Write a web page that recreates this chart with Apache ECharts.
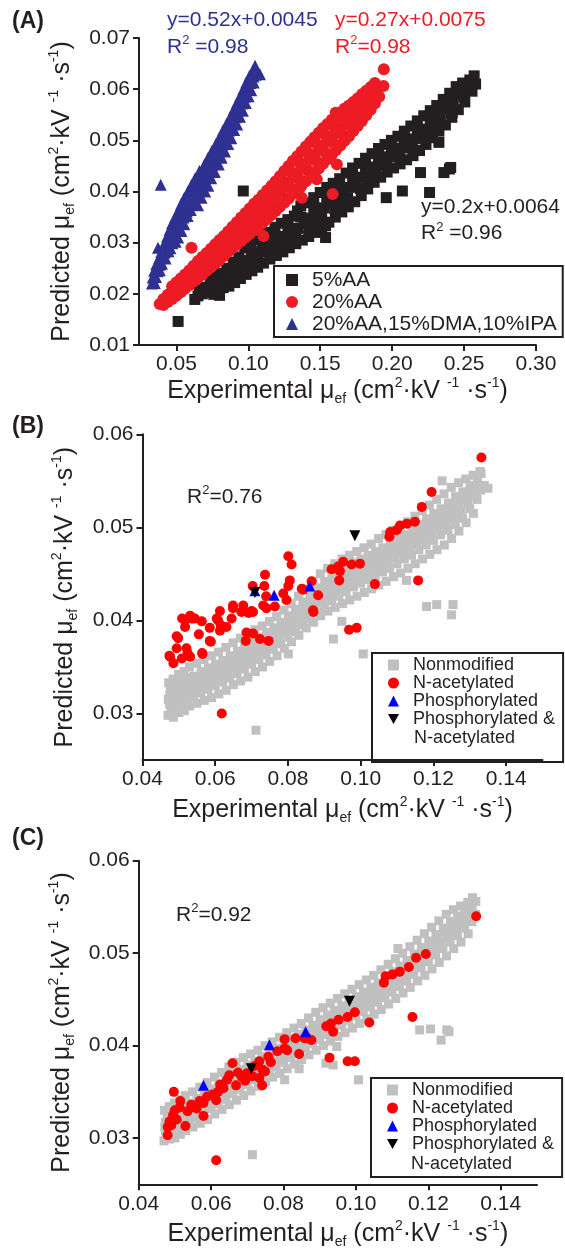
<!DOCTYPE html>
<html><head><meta charset="utf-8">
<script src="https://cdn.jsdelivr.net/npm/echarts@6/dist/echarts.min.js"></script>
<style>html,body{margin:0;padding:0;background:#fff}#c{width:565px;height:1255px}</style>
</head><body><div id="c"></div>
<script>
// ---------- tick values ----------
const xTicksA = [0.05, 0.10, 0.15, 0.20, 0.25, 0.30];
const yTicksA = [0.01, 0.02, 0.03, 0.04, 0.05, 0.06, 0.07];
const xTicksBC = [0.04, 0.06, 0.08, 0.10, 0.12, 0.14];
const yTicksBC = [0.03, 0.04, 0.05, 0.06];

// ---------- panel A : [experimental, predicted] ----------
const aa5 = [
[0.0512,0.0146],[0.0628,0.0189],[0.0650,0.0196],[0.0660,0.0208],[0.0680,0.0200],[0.0700,0.0213],[0.0720,0.0203],[0.0735,0.0218],
[0.0747,0.0238],[0.0760,0.0261],[0.0760,0.0199],[0.0780,0.0210],[0.0790,0.0225],[0.0800,0.0197],[0.0815,0.0240],[0.0825,0.0212],
[0.0840,0.0228],[0.0850,0.0250],[0.0865,0.0215],[0.0880,0.0235],[0.0884,0.0287],[0.0895,0.0262],[0.0905,0.0222],[0.0920,0.0245],
[0.0935,0.0272],[0.0945,0.0230],[0.0960,0.0255],[0.0965,0.0401],[0.0975,0.0290],[0.0985,0.0238],[0.1000,0.0265],[0.1015,0.0300],
[0.1025,0.0245],[0.1040,0.0275],[0.1060,0.0305],[0.1065,0.0252],[0.1080,0.0282],[0.1100,0.0312],[0.1105,0.0260],[0.1120,0.0290],
[0.1140,0.0320],[0.1150,0.0268],[0.1165,0.0298],[0.1185,0.0330],[0.1195,0.0275],[0.1210,0.0305],[0.1230,0.0338],[0.1240,0.0282],
[0.1255,0.0312],[0.1275,0.0345],[0.1285,0.0290],[0.1300,0.0320],[0.1320,0.0352],[0.1330,0.0298],[0.1342,0.0362],[0.1345,0.0328],
[0.1365,0.0372],[0.1375,0.0305],[0.1390,0.0338],[0.1410,0.0378],[0.1420,0.0312],[0.1435,0.0348],[0.1455,0.0388],[0.1465,0.0320],
[0.1480,0.0358],[0.1500,0.0398],[0.1510,0.0328],[0.1537,0.0333],[0.1537,0.0310],[0.1525,0.0368],[0.1545,0.0408],[0.1560,0.0340],
[0.1570,0.0378],[0.1590,0.0416],[0.1605,0.0350],[0.1615,0.0388],[0.1635,0.0425],[0.1650,0.0360],[0.1660,0.0398],[0.1680,0.0436],
[0.1695,0.0370],[0.1705,0.0408],[0.1725,0.0446],[0.1740,0.0380],[0.1750,0.0418],[0.1770,0.0455],[0.1785,0.0392],[0.1795,0.0428],
[0.1815,0.0465],[0.1830,0.0405],[0.1840,0.0438],[0.1860,0.0474],[0.1875,0.0418],[0.1885,0.0448],[0.1905,0.0484],[0.1920,0.0428],
[0.1930,0.0458],[0.1959,0.0388],[0.1950,0.0492],[0.1965,0.0438],[0.1975,0.0468],[0.1995,0.0500],[0.2010,0.0446],[0.2020,0.0476],
[0.2040,0.0508],[0.2055,0.0454],[0.2071,0.0401],[0.2065,0.0485],[0.2085,0.0518],[0.2100,0.0462],[0.2110,0.0494],[0.2130,0.0528],
[0.2145,0.0470],[0.2155,0.0503],[0.2175,0.0538],[0.2190,0.0480],[0.2197,0.0437],[0.2200,0.0512],[0.2220,0.0548],[0.2235,0.0492],
[0.2245,0.0522],[0.2260,0.0398],[0.2267,0.0515],[0.2265,0.0558],[0.2280,0.0505],[0.2290,0.0535],[0.2310,0.0568],[0.2325,0.0496],
[0.2325,0.0518],[0.2335,0.0548],[0.2355,0.0580],[0.2360,0.0437],[0.2370,0.0530],[0.2380,0.0562],[0.2398,0.0444],[0.2407,0.0447],
[0.2400,0.0592],[0.2418,0.0554],[0.2415,0.0545],[0.2425,0.0575],[0.2445,0.0605],[0.2460,0.0560],[0.2470,0.0590],[0.2490,0.0612],
[0.2505,0.0575],[0.2515,0.0600],[0.2540,0.0618],[0.2555,0.0596],[0.2570,0.0626],[0.2580,0.0610],
[0.0822,0.0215],[0.0905,0.0233],[0.0985,0.0250],[0.1065,0.0266],[0.1150,0.0283],[0.1240,0.0297],[0.1330,0.0312],[0.1420,0.0329],
[0.1510,0.0348],[0.1600,0.0367],[0.1690,0.0387],[0.1780,0.0406],[0.1870,0.0430],[0.1960,0.0450],[0.2050,0.0468],[0.2140,0.0485],
[0.2230,0.0503],[0.2320,0.0528],[0.2410,0.0553],[0.2500,0.0585],[0.0935,0.0262],[0.1020,0.0283],[0.1100,0.0298],[0.1185,0.0314],
[0.1275,0.0330],[0.1365,0.0350],[0.1455,0.0368],[0.1545,0.0388],[0.1635,0.0406],[0.1725,0.0426],[0.1815,0.0446],[0.1905,0.0465],
[0.1995,0.0484],[0.2085,0.0500],[0.2175,0.0520],[0.2265,0.0540],[0.2355,0.0565],[0.2445,0.0590],[0.2540,0.0612],
[0.0710,0.0206],[0.0770,0.0218],[0.0860,0.0238],[0.1200,0.0290],[0.1290,0.0305],[0.1470,0.0338],[0.1650,0.0378],[0.1830,0.0418]
];
const aa20 = [
[0.0384,0.0180],[0.0410,0.0178],[0.0410,0.0190],[0.0440,0.0184],[0.0440,0.0198],[0.0470,0.0190],[0.0470,0.0205],[0.0470,0.0215],
[0.0500,0.0196],[0.0500,0.0210],[0.0500,0.0222],[0.0530,0.0203],[0.0530,0.0218],[0.0530,0.0230],[0.0560,0.0210],[0.0560,0.0224],
[0.0560,0.0238],[0.0590,0.0217],[0.0590,0.0232],[0.0590,0.0246],[0.0605,0.0290],[0.0620,0.0224],[0.0620,0.0240],[0.0620,0.0255],
[0.0650,0.0231],[0.0650,0.0247],[0.0650,0.0264],[0.0680,0.0238],[0.0680,0.0255],[0.0680,0.0272],[0.0710,0.0245],[0.0710,0.0262],
[0.0710,0.0280],[0.0740,0.0252],[0.0740,0.0270],[0.0740,0.0288],[0.0770,0.0259],[0.0770,0.0278],[0.0770,0.0297],[0.0800,0.0266],
[0.0800,0.0286],[0.0800,0.0305],[0.0830,0.0274],[0.0830,0.0294],[0.0830,0.0313],[0.0860,0.0282],[0.0860,0.0302],[0.0860,0.0322],
[0.0890,0.0289],[0.0890,0.0310],[0.0890,0.0331],[0.0920,0.0296],[0.0920,0.0318],[0.0920,0.0340],[0.0950,0.0303],[0.0950,0.0326],
[0.0950,0.0349],[0.0980,0.0310],[0.0980,0.0334],[0.0980,0.0358],[0.1010,0.0317],[0.1010,0.0342],[0.1010,0.0367],[0.1040,0.0324],
[0.1040,0.0350],[0.1040,0.0376],[0.1070,0.0331],[0.1070,0.0358],[0.1070,0.0384],[0.1100,0.0339],[0.1100,0.0366],[0.1100,0.0393],
[0.1105,0.0313],[0.1130,0.0346],[0.1130,0.0374],[0.1130,0.0402],[0.1160,0.0354],[0.1160,0.0383],[0.1160,0.0411],[0.1190,0.0362],
[0.1190,0.0392],[0.1190,0.0420],[0.1220,0.0370],[0.1220,0.0400],[0.1220,0.0430],[0.1250,0.0378],[0.1250,0.0409],[0.1250,0.0440],
[0.1280,0.0386],[0.1280,0.0418],[0.1280,0.0450],[0.1310,0.0395],[0.1310,0.0427],[0.1310,0.0460],[0.1340,0.0404],[0.1340,0.0436],
[0.1340,0.0469],[0.1370,0.0412],[0.1370,0.0445],[0.1370,0.0478],[0.1400,0.0420],[0.1400,0.0454],[0.1400,0.0488],[0.1430,0.0428],
[0.1430,0.0463],[0.1430,0.0497],[0.1460,0.0437],[0.1460,0.0472],[0.1460,0.0506],[0.1490,0.0445],[0.1490,0.0481],[0.1490,0.0515],
[0.1520,0.0454],[0.1520,0.0490],[0.1520,0.0524],[0.1550,0.0463],[0.1550,0.0499],[0.1550,0.0532],[0.1580,0.0472],[0.1580,0.0507],
[0.1580,0.0540],[0.1610,0.0481],[0.1610,0.0515],[0.1610,0.0548],[0.1640,0.0490],[0.1640,0.0523],[0.1640,0.0555],[0.1670,0.0499],
[0.1670,0.0531],[0.1670,0.0562],[0.1700,0.0508],[0.1700,0.0539],[0.1700,0.0568],[0.1730,0.0518],[0.1730,0.0547],[0.1730,0.0575],
[0.1760,0.0528],[0.1760,0.0555],[0.1760,0.0582],[0.1790,0.0538],[0.1790,0.0563],[0.1790,0.0590],[0.1820,0.0549],[0.1820,0.0572],
[0.1820,0.0597],[0.1850,0.0560],[0.1850,0.0581],[0.1850,0.0604],[0.1880,0.0572],[0.1880,0.0592],[0.1880,0.0612],[0.1910,0.0585],
[0.1910,0.0603],[0.1940,0.0606],[0.1942,0.0639],
[0.0935,0.0311],[0.0935,0.0333],[0.0995,0.0326],[0.0995,0.0350],[0.1055,0.0341],[0.1055,0.0367],[0.1115,0.0356],[0.1115,0.0383],
[0.1175,0.0372],[0.1175,0.0401],[0.1235,0.0389],[0.1235,0.0419],[0.1295,0.0406],[0.1295,0.0438],[0.1355,0.0424],[0.1355,0.0457],
[0.1415,0.0441],[0.1415,0.0475],[0.1475,0.0459],[0.1475,0.0493],[0.1535,0.0476],[0.1535,0.0511],[0.1595,0.0494],[0.1595,0.0528],
[0.1655,0.0511],[0.1655,0.0543],[0.1715,0.0528],[0.1715,0.0558],[0.1775,0.0546],[0.1775,0.0573],[0.1835,0.0565],[0.1835,0.0589],
[0.1476,0.0424],[0.1360,0.0408],[0.1372,0.0388],[0.1586,0.0395],[0.1616,0.0453],[0.1607,0.0554]
];
const aaMix = [
[0.0330,0.0220],[0.0350,0.0221],[0.0335,0.0232],[0.0358,0.0233],[0.0345,0.0245],[0.0370,0.0244],[0.0385,0.0246],
[0.0360,0.0258],[0.0385,0.0257],[0.0400,0.0259],[0.0380,0.0270],[0.0405,0.0271],[0.0425,0.0269],[0.0395,0.0282],
[0.0420,0.0281],[0.0445,0.0283],[0.0372,0.0290],[0.0430,0.0291],[0.0458,0.0289],[0.0420,0.0300],[0.0445,0.0301],
[0.0472,0.0299],[0.0495,0.0302],[0.0435,0.0312],[0.0462,0.0311],[0.0490,0.0313],[0.0512,0.0310],[0.0452,0.0325],
[0.0480,0.0324],[0.0508,0.0326],[0.0535,0.0323],[0.0470,0.0338],[0.0500,0.0337],[0.0528,0.0339],[0.0555,0.0336],
[0.0492,0.0350],[0.0520,0.0351],[0.0550,0.0349],[0.0578,0.0352],[0.0512,0.0362],[0.0542,0.0363],[0.0572,0.0361],
[0.0600,0.0364],[0.0532,0.0375],[0.0562,0.0374],[0.0592,0.0376],[0.0622,0.0375],[0.0650,0.0373],[0.0555,0.0388],
[0.0585,0.0389],[0.0615,0.0387],[0.0645,0.0390],[0.0675,0.0388],[0.0580,0.0400],[0.0610,0.0401],[0.0640,0.0399],
[0.0670,0.0402],[0.0700,0.0400],[0.0605,0.0413],[0.0635,0.0412],[0.0665,0.0414],[0.0695,0.0413],[0.0722,0.0411],
[0.0630,0.0426],[0.0660,0.0427],[0.0690,0.0425],[0.0718,0.0428],[0.0742,0.0426],[0.0660,0.0440],[0.0690,0.0439],
[0.0717,0.0441],[0.0742,0.0440],[0.0767,0.0438],[0.0695,0.0453],[0.0722,0.0454],[0.0748,0.0452],[0.0772,0.0455],
[0.0795,0.0453],[0.0720,0.0466],[0.0745,0.0467],[0.0770,0.0465],[0.0793,0.0468],[0.0815,0.0466],[0.0748,0.0480],
[0.0772,0.0479],[0.0795,0.0481],[0.0818,0.0480],[0.0838,0.0478],[0.0775,0.0493],[0.0798,0.0494],[0.0820,0.0492],
[0.0842,0.0495],[0.0860,0.0493],[0.0800,0.0506],[0.0822,0.0505],[0.0843,0.0507],[0.0865,0.0506],[0.0882,0.0504],
[0.0825,0.0520],[0.0846,0.0521],[0.0866,0.0519],[0.0886,0.0522],[0.0902,0.0520],[0.0850,0.0533],[0.0870,0.0532],
[0.0890,0.0534],[0.0908,0.0533],[0.0922,0.0531],[0.0875,0.0546],[0.0894,0.0547],[0.0912,0.0545],[0.0928,0.0548],
[0.0942,0.0546],[0.0898,0.0560],[0.0916,0.0559],[0.0934,0.0561],[0.0950,0.0560],[0.0962,0.0558],[0.0920,0.0573],
[0.0938,0.0574],[0.0955,0.0572],[0.0970,0.0575],[0.0982,0.0573],[0.0942,0.0586],[0.0960,0.0587],[0.0976,0.0585],
[0.0990,0.0588],[0.1002,0.0586],[0.0965,0.0600],[0.0982,0.0599],[0.0997,0.0601],[0.1010,0.0600],[0.1020,0.0598],
[0.0985,0.0613],[0.1000,0.0614],[0.1014,0.0612],[0.1027,0.0615],[0.1038,0.0613],[0.1008,0.0626],[0.1022,0.0627],
[0.1036,0.0625],[0.1050,0.0628],[0.1035,0.0638],[0.1050,0.0640],[0.1081,0.0629],[0.1047,0.0646],[0.0391,0.0413]
];

// ---------- panel B ----------
const nonmodB = [
[0.0470,0.0298],[0.0471,0.0315],[0.0472,0.0333],[0.0478,0.0305],[0.0477,0.0325],[0.0485,0.0296],[0.0486,0.0318],[0.0484,0.0337],
[0.0493,0.0309],[0.0494,0.0328],[0.0500,0.0301],[0.0501,0.0320],[0.0499,0.0342],[0.0508,0.0312],[0.0507,0.0334],[0.0515,0.0303],
[0.0516,0.0325],[0.0514,0.0345],[0.0523,0.0316],[0.0524,0.0338],[0.0530,0.0308],[0.0531,0.0329],[0.0529,0.0350],[0.0540,0.0318],
[0.0541,0.0340],[0.0550,0.0311],[0.0551,0.0332],[0.0549,0.0354],[0.0560,0.0322],[0.0561,0.0345],[0.0570,0.0314],[0.0571,0.0336],
[0.0569,0.0358],[0.0580,0.0326],[0.0581,0.0349],[0.0590,0.0317],[0.0591,0.0339],[0.0589,0.0362],[0.0600,0.0330],[0.0601,0.0353],
[0.0610,0.0321],[0.0611,0.0344],[0.0609,0.0366],[0.0620,0.0334],[0.0621,0.0357],[0.0630,0.0325],[0.0631,0.0348],[0.0629,0.0371],
[0.0640,0.0338],[0.0641,0.0362],[0.0650,0.0331],[0.0651,0.0353],[0.0649,0.0376],[0.0660,0.0343],[0.0661,0.0367],[0.0670,0.0335],
[0.0671,0.0358],[0.0669,0.0381],[0.0680,0.0348],[0.0681,0.0372],[0.0690,0.0339],[0.0691,0.0362],[0.0689,0.0386],[0.0700,0.0353],
[0.0701,0.0377],[0.0710,0.0345],[0.0711,0.0367],[0.0709,0.0390],[0.0720,0.0358],[0.0721,0.0382],[0.0730,0.0350],[0.0731,0.0372],
[0.0729,0.0394],[0.0740,0.0363],[0.0741,0.0387],[0.0750,0.0356],[0.0751,0.0378],[0.0749,0.0399],[0.0760,0.0369],[0.0761,0.0392],
[0.0770,0.0362],[0.0771,0.0384],[0.0769,0.0404],[0.0780,0.0375],[0.0781,0.0398],[0.0790,0.0370],[0.0791,0.0390],[0.0789,0.0411],
[0.0800,0.0382],[0.0801,0.0405],[0.0810,0.0377],[0.0811,0.0396],[0.0809,0.0418],[0.0820,0.0388],[0.0821,0.0412],[0.0830,0.0384],
[0.0831,0.0403],[0.0829,0.0426],[0.0840,0.0395],[0.0841,0.0420],[0.0850,0.0392],[0.0851,0.0411],[0.0849,0.0434],[0.0860,0.0402],
[0.0861,0.0428],[0.0870,0.0398],[0.0871,0.0418],[0.0869,0.0442],[0.0880,0.0409],[0.0881,0.0435],[0.0890,0.0405],[0.0891,0.0425],
[0.0889,0.0450],[0.0900,0.0414],[0.0901,0.0442],[0.0910,0.0410],[0.0911,0.0431],[0.0909,0.0456],[0.0920,0.0421],[0.0921,0.0448],
[0.0930,0.0414],[0.0931,0.0437],[0.0929,0.0461],[0.0940,0.0426],[0.0941,0.0453],[0.0950,0.0418],[0.0951,0.0442],[0.0949,0.0466],
[0.0960,0.0431],[0.0961,0.0458],[0.0970,0.0422],[0.0971,0.0447],[0.0969,0.0470],[0.0980,0.0436],[0.0981,0.0462],[0.0990,0.0426],
[0.0991,0.0451],[0.0989,0.0474],[0.1000,0.0440],[0.1001,0.0466],[0.1010,0.0430],[0.1011,0.0456],[0.1009,0.0478],[0.1020,0.0444],
[0.1021,0.0470],[0.1030,0.0434],[0.1031,0.0460],[0.1029,0.0482],[0.1040,0.0448],[0.1041,0.0474],[0.1050,0.0438],[0.1051,0.0464],
[0.1049,0.0488],[0.1060,0.0452],[0.1061,0.0478],[0.1070,0.0442],[0.1071,0.0468],[0.1069,0.0492],[0.1080,0.0456],[0.1081,0.0482],
[0.1090,0.0447],[0.1091,0.0473],[0.1089,0.0497],[0.1100,0.0461],[0.1101,0.0487],[0.1110,0.0451],[0.1111,0.0477],[0.1109,0.0501],
[0.1120,0.0466],[0.1121,0.0492],[0.1130,0.0456],[0.1131,0.0482],[0.1129,0.0506],[0.1140,0.0470],[0.1141,0.0497],[0.1150,0.0461],
[0.1151,0.0487],[0.1149,0.0512],[0.1160,0.0476],[0.1161,0.0503],[0.1170,0.0466],[0.1171,0.0492],[0.1169,0.0518],[0.1180,0.0481],
[0.1181,0.0509],[0.1190,0.0471],[0.1191,0.0497],[0.1189,0.0524],[0.1200,0.0486],[0.1201,0.0515],[0.1210,0.0476],[0.1211,0.0503],
[0.1209,0.0530],[0.1220,0.0492],[0.1221,0.0520],[0.1230,0.0481],[0.1231,0.0508],[0.1229,0.0536],[0.1240,0.0497],[0.1241,0.0526],
[0.1250,0.0488],[0.1251,0.0515],[0.1249,0.0543],[0.1260,0.0503],[0.1261,0.0533],[0.1270,0.0496],[0.1271,0.0522],[0.1269,0.0548],
[0.1280,0.0510],[0.1281,0.0538],[0.1290,0.0505],[0.1291,0.0530],[0.1289,0.0552],[0.1300,0.0520],[0.1301,0.0545],[0.1310,0.0515],
[0.1311,0.0538],[0.1309,0.0556],[0.1320,0.0530],[0.1321,0.0550],[0.1330,0.0540],[0.1331,0.0558],[0.1340,0.0545],
[0.0475,0.0310],[0.0475,0.0320],[0.0489,0.0313],[0.0489,0.0323],[0.0504,0.0316],[0.0504,0.0327],[0.0519,0.0320],[0.0519,0.0331],
[0.0535,0.0323],[0.0535,0.0335],[0.0555,0.0327],[0.0555,0.0338],[0.0575,0.0331],[0.0575,0.0342],[0.0595,0.0334],[0.0595,0.0346],
[0.0615,0.0339],[0.0615,0.0350],[0.0635,0.0343],[0.0635,0.0355],[0.0655,0.0348],[0.0655,0.0360],[0.0675,0.0353],[0.0675,0.0365],
[0.0695,0.0357],[0.0695,0.0369],[0.0715,0.0362],[0.0715,0.0374],[0.0735,0.0367],[0.0735,0.0379],[0.0755,0.0373],[0.0755,0.0385],
[0.0775,0.0379],[0.0775,0.0391],[0.0795,0.0386],[0.0795,0.0397],[0.0815,0.0392],[0.0815,0.0404],[0.0835,0.0399],[0.0835,0.0411],
[0.0855,0.0406],[0.0855,0.0419],[0.0875,0.0413],[0.0875,0.0426],[0.0895,0.0420],[0.0895,0.0433],[0.0915,0.0426],[0.0915,0.0440],
[0.0935,0.0431],[0.0935,0.0445],[0.0955,0.0436],[0.0955,0.0450],[0.0975,0.0441],[0.0975,0.0454],[0.0995,0.0446],[0.0995,0.0458],
[0.1015,0.0450],[0.1015,0.0463],[0.1035,0.0454],[0.1035,0.0467],[0.1055,0.0458],[0.1055,0.0471],[0.1075,0.0462],[0.1075,0.0475],
[0.1095,0.0467],[0.1095,0.0480],[0.1115,0.0472],[0.1115,0.0485],[0.1135,0.0476],[0.1135,0.0490],[0.1155,0.0482],[0.1155,0.0495],
[0.1175,0.0487],[0.1175,0.0500],[0.1195,0.0492],[0.1195,0.0506],[0.1215,0.0498],[0.1215,0.0512],[0.1235,0.0503],[0.1235,0.0517],
[0.1255,0.0509],[0.1255,0.0524],[0.1275,0.0516],[0.1275,0.0530],[0.1295,0.0525],[0.1295,0.0538],[0.1315,0.0534],[0.1315,0.0544],
[0.0712,0.0282],[0.0801,0.0364],[0.0925,0.0380],[0.0948,0.0399],[0.1007,0.0364],[0.1181,0.0415],[0.1209,0.0417],[0.1254,0.0417],
[0.1250,0.0406],[0.1126,0.0443],[0.1328,0.0560],[0.1336,0.0544],[0.1224,0.0550],[0.1350,0.0542]
];
const acetylB = [
[0.0474,0.0362],[0.0476,0.0361],[0.0485,0.0354],[0.0494,0.0370],[0.0494,0.0383],[0.0498,0.0381],[0.0508,0.0359],[0.0509,0.0402],
[0.0517,0.0393],[0.0517,0.0400],[0.0521,0.0370],[0.0524,0.0365],[0.0531,0.0361],[0.0531,0.0405],[0.0535,0.0402],[0.0538,0.0402],
[0.0544,0.0402],[0.0555,0.0385],[0.0563,0.0399],[0.0564,0.0365],[0.0565,0.0364],[0.0585,0.0378],[0.0585,0.0392],[0.0588,0.0377],
[0.0604,0.0402],[0.0608,0.0400],[0.0613,0.0389],[0.0613,0.0410],[0.0615,0.0395],[0.0618,0.0300],[0.0631,0.0393],[0.0645,0.0402],
[0.0649,0.0413],[0.0649,0.0416],[0.0672,0.0409],[0.0677,0.0416],[0.0684,0.0378],[0.0686,0.0387],[0.0692,0.0408],[0.0700,0.0410],
[0.0703,0.0437],[0.0704,0.0386],[0.0704,0.0409],[0.0723,0.0380],[0.0732,0.0416],[0.0735,0.0437],[0.0737,0.0449],[0.0740,0.0426],
[0.0741,0.0413],[0.0747,0.0378],[0.0764,0.0415],[0.0787,0.0429],[0.0796,0.0422],[0.0801,0.0437],[0.0801,0.0469],[0.0805,0.0443],
[0.0810,0.0460],[0.0838,0.0434],[0.0842,0.0433],[0.0865,0.0442],[0.0869,0.0411],[0.0870,0.0409],[0.0883,0.0427],[0.0920,0.0455],
[0.0938,0.0458],[0.0941,0.0443],[0.0943,0.0453],[0.0952,0.0463],[0.0968,0.0390],[0.0975,0.0460],[0.0989,0.0392],[0.0998,0.0461],
[0.1039,0.0439],[0.1079,0.0490],[0.1081,0.0495],[0.1099,0.0497],[0.1108,0.0502],[0.1127,0.0504],[0.1149,0.0506],[0.1158,0.0443],
[0.1168,0.0522],[0.1195,0.0538],[0.1332,0.0575]
];
const phosB = [[0.0709,0.0432],[0.0762,0.0427],[0.0860,0.0437]];
const phosAcB = [[0.0709,0.0430],[0.0984,0.0491]];

// ---------- panel C ----------
const nonmodC = [
[0.0470,0.0297],[0.0472,0.0312],[0.0471,0.0330],[0.0478,0.0303],[0.0479,0.0322],[0.0485,0.0299],[0.0486,0.0315],[0.0484,0.0334],
[0.0493,0.0307],[0.0494,0.0326],[0.0500,0.0300],[0.0502,0.0318],[0.0499,0.0338],[0.0508,0.0310],[0.0507,0.0330],[0.0515,0.0304],
[0.0516,0.0322],[0.0514,0.0342],[0.0523,0.0314],[0.0524,0.0334],[0.0530,0.0308],[0.0532,0.0326],[0.0529,0.0346],[0.0540,0.0318],
[0.0541,0.0338],[0.0550,0.0312],[0.0552,0.0330],[0.0549,0.0350],[0.0560,0.0322],[0.0561,0.0343],[0.0570,0.0316],[0.0572,0.0335],
[0.0569,0.0355],[0.0580,0.0327],[0.0581,0.0348],[0.0590,0.0320],[0.0592,0.0340],[0.0589,0.0360],[0.0600,0.0332],[0.0601,0.0353],
[0.0610,0.0326],[0.0612,0.0345],[0.0609,0.0366],[0.0620,0.0337],[0.0621,0.0358],[0.0630,0.0331],[0.0632,0.0350],[0.0629,0.0371],
[0.0640,0.0342],[0.0641,0.0363],[0.0650,0.0336],[0.0652,0.0356],[0.0649,0.0377],[0.0660,0.0348],[0.0661,0.0369],[0.0670,0.0341],
[0.0672,0.0361],[0.0669,0.0382],[0.0680,0.0353],[0.0681,0.0374],[0.0690,0.0346],[0.0692,0.0366],[0.0689,0.0387],[0.0700,0.0358],
[0.0701,0.0379],[0.0710,0.0351],[0.0712,0.0371],[0.0709,0.0391],[0.0720,0.0363],[0.0721,0.0383],[0.0730,0.0356],[0.0732,0.0376],
[0.0729,0.0395],[0.0740,0.0368],[0.0741,0.0388],[0.0750,0.0361],[0.0752,0.0380],[0.0749,0.0400],[0.0760,0.0372],[0.0761,0.0392],
[0.0770,0.0366],[0.0772,0.0385],[0.0769,0.0404],[0.0780,0.0377],[0.0781,0.0397],[0.0790,0.0370],[0.0792,0.0390],[0.0789,0.0409],
[0.0800,0.0382],[0.0801,0.0402],[0.0810,0.0375],[0.0812,0.0394],[0.0809,0.0414],[0.0820,0.0387],[0.0821,0.0407],[0.0830,0.0380],
[0.0832,0.0400],[0.0829,0.0419],[0.0840,0.0392],[0.0841,0.0412],[0.0850,0.0385],[0.0852,0.0405],[0.0849,0.0424],[0.0860,0.0397],
[0.0861,0.0417],[0.0870,0.0390],[0.0872,0.0410],[0.0869,0.0430],[0.0880,0.0402],[0.0881,0.0422],[0.0890,0.0395],[0.0892,0.0415],
[0.0889,0.0436],[0.0900,0.0407],[0.0901,0.0428],[0.0910,0.0400],[0.0912,0.0420],[0.0909,0.0441],[0.0920,0.0412],[0.0921,0.0433],
[0.0930,0.0405],[0.0932,0.0425],[0.0929,0.0446],[0.0940,0.0417],[0.0941,0.0438],[0.0950,0.0410],[0.0952,0.0430],[0.0949,0.0451],
[0.0960,0.0422],[0.0961,0.0443],[0.0970,0.0414],[0.0972,0.0435],[0.0969,0.0456],[0.0980,0.0427],[0.0981,0.0448],[0.0990,0.0419],
[0.0992,0.0440],[0.0989,0.0461],[0.1000,0.0432],[0.1001,0.0453],[0.1010,0.0424],[0.1012,0.0445],[0.1009,0.0466],[0.1020,0.0437],
[0.1021,0.0458],[0.1030,0.0429],[0.1032,0.0450],[0.1029,0.0471],[0.1040,0.0442],[0.1041,0.0463],[0.1050,0.0434],[0.1052,0.0455],
[0.1049,0.0476],[0.1060,0.0447],[0.1061,0.0468],[0.1070,0.0439],[0.1072,0.0460],[0.1069,0.0482],[0.1080,0.0452],[0.1081,0.0474],
[0.1090,0.0445],[0.1092,0.0466],[0.1089,0.0488],[0.1100,0.0458],[0.1101,0.0480],[0.1110,0.0451],[0.1112,0.0472],[0.1109,0.0494],
[0.1120,0.0464],[0.1121,0.0486],[0.1130,0.0457],[0.1132,0.0478],[0.1129,0.0500],[0.1140,0.0470],[0.1141,0.0492],[0.1150,0.0463],
[0.1152,0.0485],[0.1149,0.0507],[0.1160,0.0477],[0.1161,0.0499],[0.1170,0.0470],[0.1172,0.0492],[0.1169,0.0514],[0.1180,0.0484],
[0.1181,0.0506],[0.1190,0.0476],[0.1192,0.0499],[0.1189,0.0521],[0.1200,0.0491],[0.1201,0.0513],[0.1210,0.0483],[0.1212,0.0506],
[0.1209,0.0528],[0.1220,0.0498],[0.1221,0.0520],[0.1230,0.0490],[0.1232,0.0513],[0.1229,0.0535],[0.1240,0.0505],[0.1241,0.0527],
[0.1250,0.0497],[0.1252,0.0520],[0.1249,0.0542],[0.1260,0.0512],[0.1261,0.0534],[0.1270,0.0505],[0.1272,0.0527],[0.1269,0.0547],
[0.1280,0.0519],[0.1281,0.0540],[0.1290,0.0512],[0.1292,0.0534],[0.1289,0.0551],[0.1300,0.0527],[0.1301,0.0546],[0.1310,0.0521],
[0.1312,0.0540],[0.1309,0.0555],[0.1320,0.0534],[0.1321,0.0550],[0.1330,0.0542],[0.1331,0.0556],
[0.0474,0.0308],[0.0474,0.0317],[0.0489,0.0311],[0.0489,0.0321],[0.0504,0.0314],[0.0504,0.0324],[0.0519,0.0318],[0.0519,0.0328],
[0.0535,0.0322],[0.0535,0.0332],[0.0555,0.0326],[0.0555,0.0337],[0.0575,0.0331],[0.0575,0.0342],[0.0595,0.0336],[0.0595,0.0347],
[0.0615,0.0341],[0.0615,0.0352],[0.0635,0.0346],[0.0635,0.0357],[0.0655,0.0352],[0.0655,0.0363],[0.0675,0.0357],[0.0675,0.0368],
[0.0695,0.0362],[0.0695,0.0373],[0.0715,0.0367],[0.0715,0.0377],[0.0735,0.0372],[0.0735,0.0382],[0.0755,0.0376],[0.0755,0.0386],
[0.0775,0.0381],[0.0775,0.0391],[0.0795,0.0386],[0.0795,0.0396],[0.0815,0.0391],[0.0815,0.0401],[0.0835,0.0396],[0.0835,0.0406],
[0.0855,0.0401],[0.0855,0.0411],[0.0875,0.0406],[0.0875,0.0416],[0.0895,0.0411],[0.0895,0.0422],[0.0915,0.0416],[0.0915,0.0427],
[0.0935,0.0421],[0.0935,0.0432],[0.0955,0.0426],[0.0955,0.0437],[0.0975,0.0431],[0.0975,0.0442],[0.0995,0.0436],[0.0995,0.0447],
[0.1015,0.0441],[0.1015,0.0452],[0.1035,0.0446],[0.1035,0.0457],[0.1055,0.0451],[0.1055,0.0462],[0.1075,0.0456],[0.1075,0.0467],
[0.1095,0.0462],[0.1095,0.0473],[0.1115,0.0468],[0.1115,0.0479],[0.1135,0.0474],[0.1135,0.0485],[0.1155,0.0481],[0.1155,0.0492],
[0.1175,0.0488],[0.1175,0.0499],[0.1195,0.0495],[0.1195,0.0506],[0.1215,0.0502],[0.1215,0.0513],[0.1235,0.0509],[0.1235,0.0520],
[0.1255,0.0516],[0.1255,0.0527],[0.1275,0.0523],[0.1275,0.0534],[0.1295,0.0530],[0.1295,0.0540],[0.1315,0.0537],[0.1315,0.0545],
[0.1176,0.0417],[0.1206,0.0418],[0.1251,0.0417],[0.1235,0.0406],[0.1257,0.0415],[0.0947,0.0399],[0.0917,0.0381],[0.0937,0.0379],
[0.0843,0.0375],[0.0803,0.0363],[0.1007,0.0363],[0.0714,0.0282],[0.1116,0.0505],[0.1322,0.0560]
];
const acetylC = [
[0.0480,0.0303],[0.0480,0.0312],[0.0485,0.0318],[0.0490,0.0314],[0.0495,0.0325],[0.0497,0.0350],[0.0500,0.0330],[0.0505,0.0320],
[0.0513,0.0333],[0.0515,0.0340],[0.0529,0.0313],[0.0535,0.0329],[0.0545,0.0336],[0.0550,0.0334],[0.0560,0.0332],[0.0568,0.0340],
[0.0579,0.0324],[0.0579,0.0338],[0.0589,0.0345],[0.0604,0.0347],[0.0614,0.0341],[0.0614,0.0276],[0.0619,0.0350],[0.0625,0.0358],
[0.0634,0.0354],[0.0644,0.0363],[0.0650,0.0368],[0.0659,0.0381],[0.0669,0.0357],[0.0674,0.0371],[0.0685,0.0366],[0.0694,0.0362],
[0.0699,0.0370],[0.0714,0.0367],[0.0720,0.0378],[0.0733,0.0365],[0.0733,0.0383],[0.0741,0.0357],[0.0742,0.0374],[0.0749,0.0372],
[0.0758,0.0388],[0.0765,0.0382],[0.0783,0.0394],[0.0803,0.0397],[0.0803,0.0407],[0.0810,0.0395],[0.0833,0.0408],[0.0843,0.0391],
[0.0858,0.0408],[0.0866,0.0408],[0.0877,0.0406],[0.0918,0.0421],[0.0927,0.0387],[0.0931,0.0424],[0.0937,0.0415],[0.0952,0.0428],
[0.0977,0.0383],[0.0977,0.0431],[0.0997,0.0383],[0.0997,0.0436],[0.1037,0.0425],[0.1077,0.0468],[0.1082,0.0475],[0.1101,0.0477],
[0.1121,0.0480],[0.1146,0.0485],[0.1156,0.0431],[0.1166,0.0495],[0.1193,0.0499],[0.1332,0.0540]
];
const phosC = [[0.0579,0.0357],[0.0761,0.0401],[0.0861,0.0415]];
const phosAcC = [[0.0711,0.0375],[0.0982,0.0448]];

// ---------- styling ----------
const FONT = '"Liberation Sans", Arial, Helvetica, sans-serif';
const INK = '#231f20';
const DOWN_TRI = 'path://M0,0L10,0L5,9Z';

const titleRich = {
  t: {fontSize: 25, fontFamily: FONT, color: INK, lineHeight: 30},
  sub: {fontSize: 14, fontFamily: FONT, color: INK, lineHeight: 15, verticalAlign: 'bottom'},
  sup: {fontSize: 14, fontFamily: FONT, color: INK, lineHeight: 15, verticalAlign: 'top'}
};
function axisTitle(prefix) {
  return '{t|' + prefix + ' μ}{sub|ef}{t| (cm}{sup|2}{t|·kV }{sup|-1}{t| ·s}{sup|-1}{t|)}';
}
function mkAxis(gi, min, max, ticks, gap, title) {
  return {
    type: 'value', gridIndex: gi, min: min, max: max,
    axisLine: {onZero: false, lineStyle: {color: INK, width: 2}},
    axisTick: {customValues: ticks, length: 6, lineStyle: {color: INK, width: 2}},
    axisLabel: {customValues: ticks, formatter: v => v.toFixed(2), fontSize: 21, fontFamily: FONT, color: INK, margin: 9},
    splitLine: {show: false},
    name: axisTitle(title), nameLocation: 'middle', nameGap: gap,
    nameTextStyle: {rich: titleRich}
  };
}
function sc(name, data, gi, symbol, size, color) {
  return {type: 'scatter', name: name, data: data, xAxisIndex: gi, yAxisIndex: gi,
    symbol: symbol, symbolSize: size, itemStyle: {color: color, opacity: 1}, silent: true};
}
function legendBC(left, top, padBottom) {
  return {
    left: left, top: top, orient: 'vertical', selectedMode: false,
    data: ['Nonmodified', 'N-acetylated', 'Phosphorylated', 'Phosphorylated &'],
    borderColor: INK, borderWidth: 2, borderRadius: 0,
    padding: [3, 8, padBottom, 16], itemGap: 0, itemWidth: 11, itemHeight: 11,
    textStyle: {fontSize: 18, fontFamily: FONT, color: INK, lineHeight: 18, padding: [0, 0, 0, 9]}
  };
}
function txt(left, top, text, rich) {
  return {type: 'text', left: left, top: top, silent: true, style: {text: text, rich: rich}};
}
function richOf(color, size, lh) {
  return {
    a: {fill: color, fontSize: size, fontFamily: FONT, lineHeight: lh},
    s: {fill: color, fontSize: 13, fontFamily: FONT, lineHeight: 13, verticalAlign: 'top'}
  };
}

const chart = echarts.init(document.getElementById('c'), null, {renderer: 'canvas'});
chart.setOption({
  animation: false,
  backgroundColor: '#fff',
  grid: [
    {left: 139, right: 29, top: 38, bottom: 910},
    {left: 142.5, right: 22.5, top: 434.3, bottom: 495},
    {left: 138.7, right: 28, top: 860.7, bottom: 70.7}
  ],
  xAxis: [
    mkAxis(0, 0.024, 0.30, xTicksA, 31, 'Experimental'),
    mkAxis(1, 0.04, 0.15, xTicksBC, 35, 'Experimental'),
    mkAxis(2, 0.04, 0.15, xTicksBC, 35, 'Experimental')
  ],
  yAxis: [
    mkAxis(0, 0.01, 0.07, yTicksA, 62, 'Predicted'),
    mkAxis(1, 0.025, 0.06, yTicksBC, 62, 'Predicted'),
    mkAxis(2, 0.025, 0.06, yTicksBC, 62, 'Predicted')
  ],
  legend: [
    {
      left: 274, top: 266, orient: 'vertical', selectedMode: false,
      data: ['5%AA', '20%AA', '20%AA,15%DMA,10%IPA'],
      borderColor: INK, borderWidth: 2, borderRadius: 0,
      padding: [3, 6, 2, 12], itemGap: 0, itemWidth: 12, itemHeight: 12,
      textStyle: {fontSize: 21, fontFamily: FONT, color: INK, lineHeight: 22, padding: [0, 0, 0, 9]}
    },
    legendBC(372, 653, 34),
    legendBC(371, 1078, 24)
  ],
  series: [
    sc('5%AA', aa5, 0, 'rect', 11, INK),
    sc('20%AA', aa20, 0, 'circle', 12, '#ed1c24'),
    sc('20%AA,15%DMA,10%IPA', aaMix, 0, 'triangle', 12, '#2e3192'),
    sc('Nonmodified', nonmodB, 1, 'rect', 9, '#c0c0c0'),
    sc('N-acetylated', acetylB, 1, 'circle', 10, '#ff0000'),
    sc('Phosphorylated', phosB, 1, 'triangle', 11, '#0000ff'),
    sc('Phosphorylated &', phosAcB, 1, DOWN_TRI, 11, '#000000'),
    sc('Nonmodified', nonmodC, 2, 'rect', 9, '#c0c0c0'),
    sc('N-acetylated', acetylC, 2, 'circle', 10, '#ff0000'),
    sc('Phosphorylated', phosC, 2, 'triangle', 11, '#0000ff'),
    sc('Phosphorylated &', phosAcC, 2, DOWN_TRI, 11, '#000000')
  ],
  graphic: [
    {type: 'text', left: 12, top: 10, silent: true, style: {text: '(A)', font: 'bold 23px ' + FONT, fill: INK}},
    {type: 'text', left: 12, top: 415, silent: true, style: {text: '(B)', font: 'bold 23px ' + FONT, fill: INK}},
    {type: 'text', left: 12, top: 827, silent: true, style: {text: '(C)', font: 'bold 23px ' + FONT, fill: INK}},
    txt(167, 10, '{a|y=0.52x+0.0045}\n{a|R}{s|2}{a| =0.98}', richOf('#2e3192', 21, 27)),
    txt(335, 10, '{a|y=0.27x+0.0075}\n{a|R}{s|2}{a|=0.98}', richOf('#ed1c24', 21, 27)),
    txt(421, 197, '{a|y=0.2x+0.0064}\n{a|R}{s|2}{a| =0.96}', richOf(INK, 21, 26)),
    txt(187, 484, '{a|R}{s|2}{a|=0.76}', richOf(INK, 21, 26)),
    txt(176, 902, '{a|R}{s|2}{a|=0.92}', richOf(INK, 21, 26)),
    {type: 'text', left: 414, top: 729, silent: true, style: {text: 'N-acetylated', font: '18px ' + FONT, fill: INK}},
    {type: 'text', left: 411, top: 1155, silent: true, style: {text: 'N-acetylated', font: '18px ' + FONT, fill: INK}}
  ]
});
</script>
</body></html>
